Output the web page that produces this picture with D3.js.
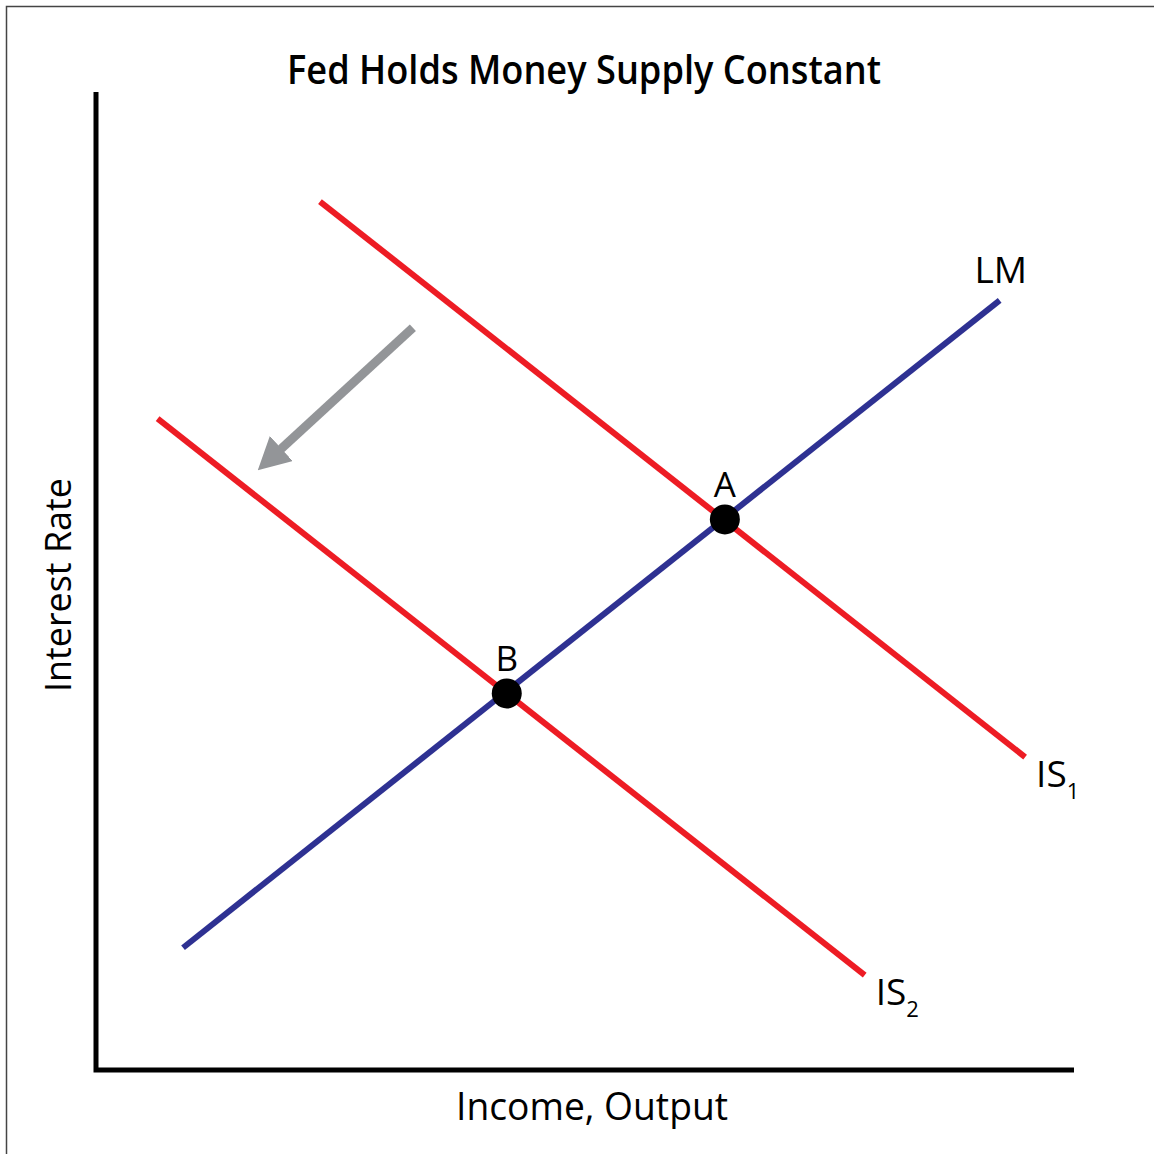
<!DOCTYPE html>
<html>
<head>
<meta charset="utf-8">
<script src="https://cdn.jsdelivr.net/npm/d3@7"></script>
<style>
  body { margin: 0; background: #fff; }
  svg text { fill: #000; }
</style>
</head>
<body>
<script>
// curve endpoints in chart units (0..100 on both axes)
var lmCurve = [[8.9, 12.5], [92.4, 78.7]];
var is1Curve = [[22.9, 88.8], [95.0, 32.0]];
var is2Curve = [[6.3, 66.6], [78.6, 9.7]];
var equilibria = [{ name: "A", x: 64.3, y: 56.3 }, { name: "B", x: 42.0, y: 38.5 }];
var shiftArrow = [[32.4, 75.9], [18.8, 63.4]];

var titleText = "Fed Holds Money Supply Constant";
var xLabel = "Income, Output";
var yLabel = "Interest Rate";

var W = 1154, H = 1154;
var margin = { top: 92, right: 80, bottom: 84, left: 96 };

var svg = d3.select("body").append("svg")
    .attr("width", W)
    .attr("height", H);

// frame (only top/left edges visible in the original)
svg.append("rect")
    .attr("x", 6.5).attr("y", 6.5)
    .attr("width", W + 20).attr("height", H + 20)
    .attr("fill", "none")
    .attr("stroke", "#444")
    .attr("stroke-width", 1.5);

var xScale = d3.scaleLinear().domain([0, 100]).range([margin.left, W - margin.right]);
var yScale = d3.scaleLinear().domain([0, 100]).range([H - margin.bottom, margin.top]);

var line = d3.line()
    .x(function (d) { return xScale(d[0]); })
    .y(function (d) { return yScale(d[1]); });

// axes (plain lines, no ticks)
svg.append("path")
    .attr("d", "M" + xScale(0) + "," + yScale(100) + "V" + yScale(0) + "H" + xScale(100))
    .attr("fill", "none")
    .attr("stroke", "#000")
    .attr("stroke-width", 5);

svg.append("defs").append("marker")
    .attr("id", "head")
    .attr("markerUnits", "userSpaceOnUse")
    .attr("viewBox", "0 -17 32 34")
    .attr("refX", 2).attr("refY", 0)
    .attr("markerWidth", 32).attr("markerHeight", 34)
    .attr("orient", "auto")
    .append("path")
    .attr("d", "M0,-17L32,0L0,17Z")
    .attr("fill", "#939598");

svg.append("path")
    .attr("d", line(shiftArrow))
    .attr("stroke", "#939598")
    .attr("stroke-width", 9)
    .attr("fill", "none")
    .attr("marker-end", "url(#head)");

svg.append("path").attr("d", line(is1Curve))
    .attr("stroke", "#ed1c24").attr("stroke-width", 6).attr("fill", "none");
svg.append("path").attr("d", line(is2Curve))
    .attr("stroke", "#ed1c24").attr("stroke-width", 6).attr("fill", "none");
svg.append("path").attr("d", line(lmCurve))
    .attr("stroke", "#2e3192").attr("stroke-width", 6).attr("fill", "none");

svg.selectAll("circle.eq").data(equilibria).enter().append("circle")
    .attr("class", "eq")
    .attr("cx", function (d) { return xScale(d.x); })
    .attr("cy", function (d) { return yScale(d.y); })
    .attr("r", 15)
    .attr("fill", "#000");

var font = "'Open Sans', 'Liberation Sans', sans-serif";

svg.selectAll("text.eq").data(equilibria).enter().append("text")
    .attr("class", "eq")
    .attr("x", function (d) { return xScale(d.x); })
    .attr("y", function (d) { return yScale(d.y) - 22; })
    .attr("text-anchor", "middle")
    .style("font-family", font)
    .style("font-size", "35px")
    .text(function (d) { return d.name; });

// curve labels
svg.append("text")
    .attr("x", xScale(lmCurve[1][0]) + 1)
    .attr("y", yScale(lmCurve[1][1]) - 17)
    .attr("text-anchor", "middle")
    .style("font-family", font).style("font-size", "37px")
    .text("LM");

function isLabel(pt, sub) {
    var t = svg.append("text")
        .attr("x", xScale(pt[0]) + 11)
        .attr("y", yScale(pt[1]) + 30)
        .style("font-family", font).style("font-size", "37px");
    t.append("tspan").text("IS");
    t.append("tspan").attr("dy", 12).style("font-size", "22px").text(sub);
}
isLabel(is1Curve[1], "1");
isLabel(is2Curve[1], "2");

// title and axis titles
svg.append("text")
    .attr("x", 584).attr("y", 84)
    .attr("text-anchor", "middle")
    .attr("textLength", 594).attr("lengthAdjust", "spacingAndGlyphs")
    .style("font-family", "'Open Sans', 'Liberation Sans', sans-serif")
    .style("font-weight", "600")
    .style("font-size", "40px")
    .text(titleText);

svg.append("text")
    .attr("x", 592).attr("y", 1120)
    .attr("text-anchor", "middle")
    .attr("textLength", 272).attr("lengthAdjust", "spacingAndGlyphs")
    .style("font-family", font).style("font-size", "39px")
    .text(xLabel);

svg.append("text")
    .attr("transform", "translate(71,585) rotate(-90)")
    .attr("text-anchor", "middle")
    .attr("textLength", 214).attr("lengthAdjust", "spacingAndGlyphs")
    .style("font-family", font).style("font-size", "37px")
    .text(yLabel);
</script>
</body>
</html>
